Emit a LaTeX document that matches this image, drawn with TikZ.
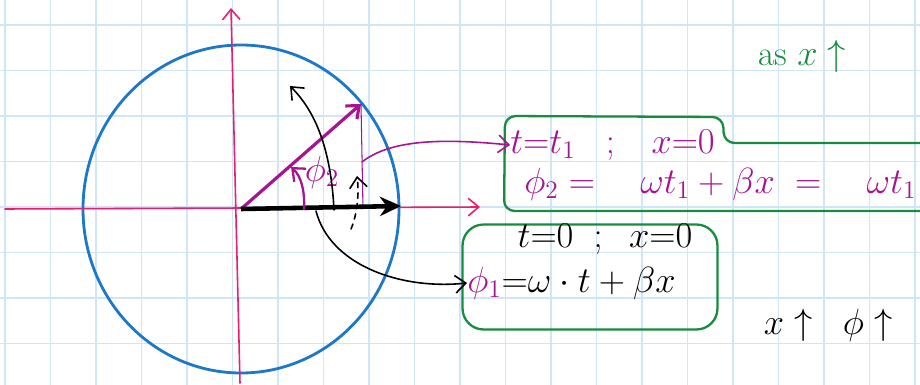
\documentclass[tikz,border=0pt]{standalone}
\usepackage{amsmath}
\usetikzlibrary{arrows.meta,positioning,calc}
\definecolor{gridblue}{RGB}{208,230,248}
\definecolor{axispink}{RGB}{236,28,110}
\definecolor{vecpurple}{RGB}{165,20,145}
\definecolor{boxgreen}{RGB}{22,140,62}
\definecolor{circblue}{RGB}{30,120,200}

\begin{document}
\begin{tikzpicture}[
    x=0.02cm,
    y=-0.02cm,
    >={Straight Barb[length=6pt,width=10pt]},
    hand/.style={
        font=\fontsize{20}{24}\selectfont,
        inner sep=0pt
    },
    thinline/.style={
        line width=0.9pt,
        line cap=round
    }
]

\useasboundingbox (0,0) rectangle (920,385);
\fill[white] (0,0) rectangle (920,385);

% squared paper
\foreach \gx in {5,50.5,...,920}
    \draw[gridblue,line width=0.9pt] (\gx,0)--(\gx,385);
\foreach \gy in {25,70.5,...,385}
    \draw[gridblue,line width=0.9pt] (0,\gy)--(920,\gy);

\coordinate (O) at (241,209);
\coordinate (tip) at (401,206);
\coordinate (P) at (361,104);
\coordinate (foot) at (363,209);
\coordinate (Pm) at (362,162);
\coordinate (Ob) at (316,211);

% circle and axes
\draw[circblue,line width=1.6pt] (O) ellipse [x radius=158, y radius=164];
\draw[->,axispink,thinline] (5,209)--(480,207);
\draw[->,axispink,thinline] (240,383)--(231,8);

% phasors
\draw[vecpurple,line width=0.6pt] (P)--(foot);
\draw[->,vecpurple,line width=1.8pt] (O)--(P);
\draw[->,line width=2.6pt,>={Stealth[length=12pt,width=11pt]}] (O)--(tip);

% angles
\draw[->,vecpurple,line width=1.3pt] (304,210) .. controls (305,190) and (301,176) .. (291,167);
\node[hand,vecpurple] (phiang) at (322,172) {$\phi_2$};
\draw[->,thinline] (334,210) .. controls (331,150) and (316,112) .. (290,86);
\draw[->,thinline,dashed] (351,229) .. controls (358,212) and (359,192) .. (357,176);

% boxes
\draw[boxgreen,line width=1.3pt,rounded corners=6pt]
    (922,143)--(724,143)--(723,117)--(505,116)--(504,211)--(922,211);
\node[hand,vecpurple,anchor=west] (t1line) at (510,145)
    {$t{=}t_1\;\;\;;\;\;\;x{=}0$};
\node[hand,vecpurple,anchor=west] (phi2line) at (524,184)
    {$\phi_2=\quad\omega t_1+\beta x\;=\quad\omega t_1$};

\node[
    draw=boxgreen,
    line width=1.3pt,
    rounded corners=12pt,
    minimum width=5.1cm,
    minimum height=2.1cm
] (box1) at (590,277) {};
\node[hand] (t0line) at (605,239) {$t{=}0\;\;;\;\;x{=}0$};
\node[hand,anchor=west] (phi1line) at (467,283)
    {$\textcolor{vecpurple}{\phi_1}{=}\omega\cdot t+\beta x$};

% connectors
\draw[->,vecpurple,thinline] (Pm) .. controls (390,140) and (440,138) .. (t1line.west);
\draw[->,thinline] (Ob) .. controls (330,265) and (400,290) .. (phi1line.west);

% notes
\node[hand,boxgreen] (note1) at (802,56) {as $x\uparrow$};
\node[hand] (note2) at (828,325) {$x\uparrow\;\;\phi\uparrow$};

\end{tikzpicture}
\end{document}
